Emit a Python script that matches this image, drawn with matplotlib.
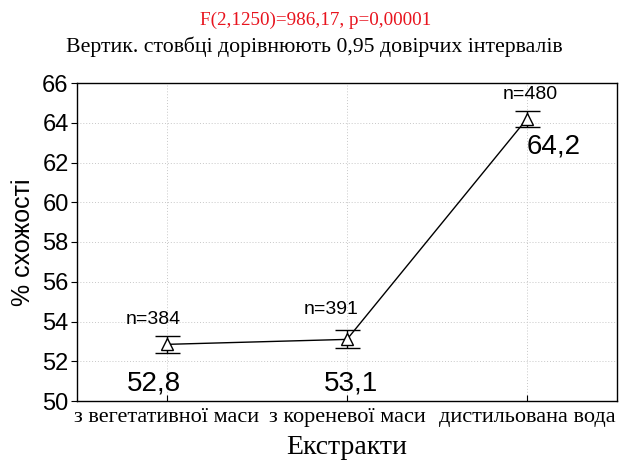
import matplotlib
matplotlib.use("Agg")
import matplotlib.pyplot as plt

categories = ["з вегетативної маси", "з кореневої маси", "дистильована вода"]
means = [52.85, 53.1, 64.2]
ci = [0.42, 0.45, 0.4]
value_labels = ["52,8", "53,1", "64,2"]
n_labels = ["n=384", "n=391", "n=480"]
yticks = [50, 52, 54, 56, 58, 60, 62, 64, 66]

SANS = "Liberation Sans"
SERIF = "Liberation Serif"

fig = plt.figure(figsize=(6.19, 4.68), dpi=100)
ax = fig.add_axes([77/619, 1-401/468, (617-77)/619, (401-83)/468])

x = list(range(len(categories)))
ax.errorbar(x, means, yerr=ci, color="black", lw=1.0, marker="^", ms=9,
            mfc="white", mec="black", mew=1.0, capsize=9, capthick=1.0,
            elinewidth=1.0, zorder=3)

ax.set_xlim(-0.5, 2.5)
ax.set_ylim(50, 66)
ax.set_yticks(yticks)
ax.set_yticklabels([str(v) for v in yticks], fontfamily=SANS, fontsize=17)
ax.set_xticks(x)
ax.set_xticklabels(categories, fontfamily=SERIF, fontsize=16)
ax.tick_params(axis="y", direction="out", length=4, right=False, pad=2)
ax.tick_params(axis="x", direction="in", length=4, top=False, pad=5)
ax.grid(True, color="#c8c8c8", linestyle=(0, (1, 2)), linewidth=0.7)
for s in ax.spines.values():
    s.set_linewidth(1.0)

n_pos = [(-0.074, 54.08), (0.91, 54.58), (2.02, 65.4)]
for (xi, yi), lab in zip(n_pos, n_labels):
    ax.text(xi, yi, lab, ha="center", va="center", fontfamily=SANS, fontsize=14)
val_pos = [(-0.074, 50.9), (1.02, 50.9), (2.146, 62.78)]
for (xi, yi), lab in zip(val_pos, value_labels):
    ax.text(xi, yi, lab, ha="center", va="center", fontfamily=SANS, fontsize=20)

ax.set_ylabel("% схожості", fontfamily=SANS, fontsize=18, labelpad=5)
ax.set_xlabel("Екстракти", fontfamily=SERIF, fontsize=20, labelpad=6)

fig.text(316/619, 1-20/468, "F(2,1250)=986,17, p=0,00001", color="#e8141e",
         ha="center", va="center", fontfamily=SERIF, fontsize=13.8)
fig.text(314/619, 1-47/468, "Вертик. стовбці дорівнюють 0,95 довірчих інтервалів",
         ha="center", va="center", fontfamily=SERIF, fontsize=15.7)

fig.savefig("out.png", dpi=100)
